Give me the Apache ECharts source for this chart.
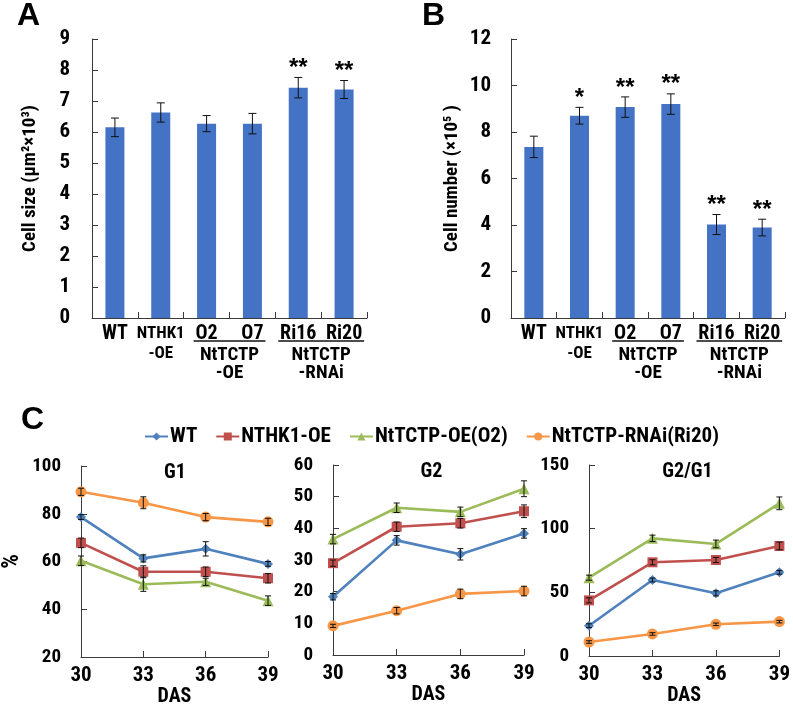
<!DOCTYPE html>
<html>
<head>
<meta charset="utf-8">
<script src="https://cdn.jsdelivr.net/npm/echarts@6/dist/echarts.min.js"></script>
<style>
html,body{margin:0;padding:0;background:#fff;}
#main{width:793px;height:713px;}
</style>
</head>
<body>
<div id="main"></div>
<script>
// ---------- DATA ----------
const categories = ['WT', 'NTHK1\n-OE', 'O2', 'O7', 'Ri16', 'Ri20'];
const cellSize = [6.15, 6.63, 6.27, 6.27, 7.43, 7.37];
const cellSizeErr = [0.30, 0.31, 0.26, 0.33, 0.33, 0.29];
const cellSizeStars = ['', '', '', '', '**', '**'];
const cellNumber = [7.36, 8.70, 9.07, 9.20, 4.02, 3.89];
const cellNumberErr = [0.46, 0.36, 0.44, 0.44, 0.43, 0.36];
const cellNumberStars = ['', '*', '**', '**', '**', '**'];
const groupSpans = [[2, 3], [4, 5]];
const groupLabels = ['NtTCTP\n-OE', 'NtTCTP\n-RNAi'];

const days = [30, 33, 36, 39];
const seriesNames = ['WT', 'NTHK1-OE', 'NtTCTP-OE(O2)', 'NtTCTP-RNAi(Ri20)'];
// G1 (%)
const g1WT = [78.6, 61.3, 65.3, 59.0];
const g1NTHK1 = [67.8, 55.7, 55.7, 53.0];
const g1OE = [60.3, 50.5, 51.5, 43.6];
const g1RNAi = [89.2, 84.6, 78.6, 76.6];
const g1WTErr = [1.0, 1.5, 3.0, 1.0];
const g1NTHK1Err = [2.0, 2.5, 2.0, 2.0];
const g1OEErr = [2.0, 3.0, 1.5, 2.0];
const g1RNAiErr = [1.5, 2.5, 1.5, 1.5];
// G2 (%)
const g2WT = [18.4, 36.2, 31.8, 38.4];
const g2NTHK1 = [29.0, 40.5, 41.6, 45.4];
const g2OE = [36.6, 46.5, 45.2, 52.5];
const g2RNAi = [9.2, 14.0, 19.3, 20.2];
const g2WTErr = [1.0, 1.5, 1.8, 1.5];
const g2NTHK1Err = [1.0, 1.5, 1.5, 2.0];
const g2OEErr = [1.5, 1.5, 1.5, 2.5];
const g2RNAiErr = [0.5, 1.0, 1.5, 1.5];
// G2/G1 (%)
const ratioWT = [23.8, 59.7, 49.2, 65.7];
const ratioNTHK1 = [43.7, 73.6, 75.4, 86.4];
const ratioOE = [61.5, 92.4, 88.0, 119.9];
const ratioRNAi = [11.0, 17.3, 24.9, 27.0];
const ratioWTErr = [1.5, 1.5, 2.0, 1.5];
const ratioNTHK1Err = [2.0, 2.0, 2.0, 3.0];
const ratioOEErr = [2.0, 2.5, 3.0, 5.0];
const ratioRNAiErr = [1.0, 1.0, 1.0, 1.0];

const panelTitles = ['G1', 'G2', 'G2/G1'];
const yTicksA = {min: 0, max: 9, interval: 1};
const yTicksB = {min: 0, max: 12, interval: 2};
const yTicksC = [{min: 20, max: 100, interval: 20}, {min: 0, max: 60, interval: 10}, {min: 0, max: 150, interval: 50}];
const xTicksC = {min: 30, max: 39, interval: 3};

// ---------- STYLE / LAYOUT ----------
const FONT = "'Roboto Condensed', 'Liberation Sans', Arial, sans-serif";
const FONT_LETTER = "'Liberation Sans', Arial, sans-serif";
const BAR_COLOR = '#4472C4';
const LINE_COLORS = ['#4F81BD', '#C0504D', '#9BBB59', '#F79646'];
const SYMBOLS = ['diamond', 'rect', 'triangle', 'circle'];
const SYMBOL_SIZES = [10, 10, 11, 11];
const AXIS_COLOR = '#3a3a3a';

const gridA = {left: 92, top: 39, width: 275, height: 279};
const gridB = {left: 511, top: 39, width: 274, height: 279};
const gridsC = [
  {left: 76, top: 466, width: 192, height: 191},
  {left: 333, top: 465, width: 191, height: 190},
  {left: 589, top: 465, width: 191, height: 191}
];

const chart = echarts.init(document.getElementById('main'), null, {renderer: 'canvas'});

const axisLineStyle = {show: true, lineStyle: {color: AXIS_COLOR, width: 1}};
const tickStyle = {show: true, inside: true, length: 6, lineStyle: {color: AXIS_COLOR, width: 1}};

function errorBarItem(capHalf, stars) {
  return function (params, api) {
    const x = api.value(0), y = api.value(1), e = api.value(2);
    const top = api.coord([x, y + e]);
    const bot = api.coord([x, y - e]);
    const st = {stroke: '#111', lineWidth: 1};
    const children = [
      {type: 'line', shape: {x1: top[0], y1: top[1], x2: bot[0], y2: bot[1]}, style: st},
      {type: 'line', shape: {x1: top[0] - capHalf, y1: top[1], x2: top[0] + capHalf, y2: top[1]}, style: st},
      {type: 'line', shape: {x1: bot[0] - capHalf, y1: bot[1], x2: bot[0] + capHalf, y2: bot[1]}, style: st}
    ];
    if (stars && stars[params.dataIndex]) {
      children.push({type: 'text', style: {
        text: stars[params.dataIndex], x: top[0], y: top[1] + 3,
        align: 'center', verticalAlign: 'bottom',
        fontSize: 24, fontWeight: 'bold', fontFamily: FONT_LETTER, fill: '#000'
      }});
    }
    return {type: 'group', children: children};
  };
}

function groupLabelItem(params, api) {
  const from = api.coord([api.value(0), 0]);
  const to = api.coord([api.value(2), 0]);
  const ext = params.dataIndex === 0 ? 13 : 20;
  const yLine = from[1] + 23;
  return {type: 'group', children: [
    {type: 'line', shape: {x1: from[0] - ext, y1: yLine, x2: to[0] + ext, y2: yLine}, style: {stroke: '#111', lineWidth: 1.5}},
    {type: 'text', style: {
      text: groupLabels[params.dataIndex], x: (from[0] + to[0]) / 2, y: yLine + 5,
      align: 'center', verticalAlign: 'top', lineHeight: 18,
      fontSize: 19, fontWeight: 'bold', fontFamily: FONT, fill: '#000'
    }}
  ]};
}

function catFormatter(v) {
  if (v.indexOf('\n') >= 0) return v.split('\n').map(s => '{s|' + s + '}').join('\n');
  return v;
}

const grids = [gridA, gridB].concat(gridsC);
const xAxes = [];
const yAxes = [];
const series = [];

// bar panels
[[yTicksA, 'Cell size (μm²×10³)', cellSize, cellSizeErr, cellSizeStars, 52, 22],
 [yTicksB, 'Cell number (×10⁵ )', cellNumber, cellNumberErr, cellNumberStars, 49, 20]].forEach((cfg, i) => {
  xAxes.push({
    type: 'category', gridIndex: i, data: categories,
    axisLine: axisLineStyle, axisTick: tickStyle,
    axisLabel: {interval: 0, margin: 6, color: '#000', fontSize: 20, fontWeight: 'bold', fontFamily: FONT,
      formatter: catFormatter,
      rich: {s: {fontSize: 17, fontWeight: 'bold', fontFamily: FONT, color: '#000', lineHeight: 20}}}
  });
  yAxes.push({
    type: 'value', gridIndex: i, min: cfg[0].min, max: cfg[0].max, interval: cfg[0].interval,
    splitLine: {show: false}, axisLine: axisLineStyle, axisTick: tickStyle,
    axisLabel: {margin: cfg[6], color: '#000', fontSize: 21, fontWeight: 'bold', fontFamily: FONT},
    name: cfg[1], nameLocation: 'middle', nameGap: cfg[5], nameRotate: 90,
    nameTextStyle: {color: '#000', fontSize: 19, fontWeight: 'bold', fontFamily: FONT}
  });
  series.push({
    type: 'bar', xAxisIndex: i, yAxisIndex: i, data: cfg[2], barWidth: 19,
    itemStyle: {color: BAR_COLOR}, silent: true
  });
  series.push({
    type: 'custom', xAxisIndex: i, yAxisIndex: i, z: 5, clip: false,
    renderItem: errorBarItem(4, cfg[4]),
    data: cfg[2].map((v, k) => [k, v, cfg[3][k]])
  });
  series.push({
    type: 'custom', xAxisIndex: i, yAxisIndex: i, z: 5, clip: false,
    renderItem: groupLabelItem,
    data: groupSpans.map(g => [g[0], 0, g[1]])
  });
});

// line panels
const lineData = [
  [[g1WT, g1WTErr], [g1NTHK1, g1NTHK1Err], [g1OE, g1OEErr], [g1RNAi, g1RNAiErr]],
  [[g2WT, g2WTErr], [g2NTHK1, g2NTHK1Err], [g2OE, g2OEErr], [g2RNAi, g2RNAiErr]],
  [[ratioWT, ratioWTErr], [ratioNTHK1, ratioNTHK1Err], [ratioOE, ratioOEErr], [ratioRNAi, ratioRNAiErr]]
];
lineData.forEach((panel, p) => {
  const gi = p + 2;
  xAxes.push({
    type: 'value', gridIndex: gi, min: xTicksC.min, max: xTicksC.max, interval: xTicksC.interval,
    splitLine: {show: false}, axisLine: axisLineStyle, axisTick: tickStyle,
    axisLabel: {margin: 8, color: '#000', fontSize: 21, fontWeight: 'bold', fontFamily: FONT},
    name: 'DAS', nameLocation: 'middle', nameGap: 28,
    nameTextStyle: {color: '#000', fontSize: 20, fontWeight: 'bold', fontFamily: FONT, verticalAlign: 'top'}
  });
  yAxes.push({
    type: 'value', gridIndex: gi, min: yTicksC[p].min, max: yTicksC[p].max, interval: yTicksC[p].interval,
    splitLine: {show: false}, axisLine: axisLineStyle, axisTick: tickStyle,
    axisLabel: {margin: 20, color: '#000', fontSize: 19, fontWeight: 'bold', fontFamily: FONT},
    name: p === 0 ? '%' : '', nameLocation: 'middle', nameGap: 57, nameRotate: 90,
    nameTextStyle: {color: '#000', fontSize: 23, fontWeight: 'bold', fontFamily: FONT}
  });
  panel.forEach((s, k) => {
    series.push({
      type: 'line', name: seriesNames[k], xAxisIndex: gi, yAxisIndex: gi,
      data: days.map((d, j) => [d, s[0][j]]),
      symbol: SYMBOLS[k], symbolSize: SYMBOL_SIZES[k], showSymbol: true,
      lineStyle: {color: LINE_COLORS[k], width: 2.6},
      itemStyle: {color: LINE_COLORS[k]}, z: 3, silent: true
    });
    series.push({
      type: 'custom', xAxisIndex: gi, yAxisIndex: gi, z: 4, clip: false,
      renderItem: errorBarItem(3, null),
      data: days.map((d, j) => [d, s[0][j], s[1][j]])
    });
  });
});

const graphics = [
  {type: 'text', left: 17, top: 0, style: {text: 'A', fontSize: 32, fontWeight: 'bold', fontFamily: FONT_LETTER, fill: '#000'}},
  {type: 'text', left: 422, top: 0, style: {text: 'B', fontSize: 32, fontWeight: 'bold', fontFamily: FONT_LETTER, fill: '#000'}},
  {type: 'text', left: 21, top: 404, style: {text: 'C', fontSize: 32, fontWeight: 'bold', fontFamily: FONT_LETTER, fill: '#000'}}
];
gridsC.forEach((g, p) => {
  graphics.push({type: 'text', x: g.left + g.width / 2 + 3, y: g.top + 7,
    style: {text: panelTitles[p], align: 'center', verticalAlign: 'middle', fontSize: 20, fontWeight: 'bold', fontFamily: FONT, fill: '#000'}});
});

chart.setOption({
  animation: false,
  backgroundColor: '#fff',
  grid: grids,
  xAxis: xAxes,
  yAxis: yAxes,
  legend: {
    data: seriesNames, left: 139, top: 421, itemWidth: 23, itemHeight: 10, itemGap: 18,
    textStyle: {color: '#000', fontSize: 21, fontWeight: 'bold', fontFamily: FONT, padding: [0, 0, 0, -3]},
    selectedMode: false
  },
  graphic: graphics,
  series: series
});
</script>
</body>
</html>
